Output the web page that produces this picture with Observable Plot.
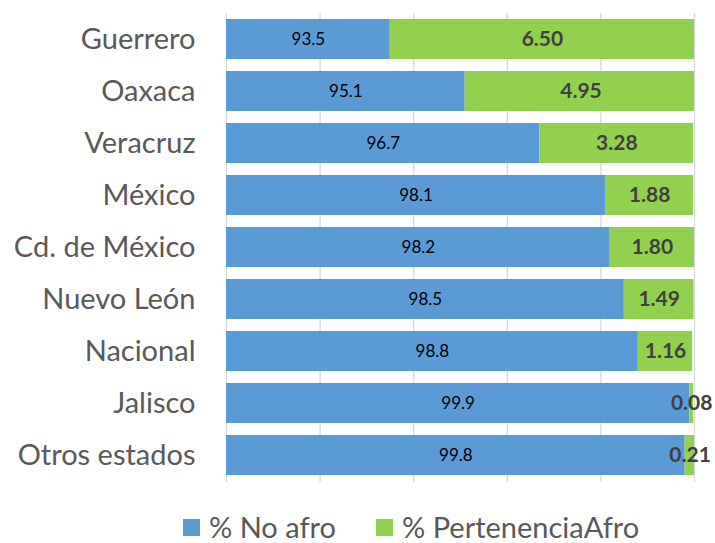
<!DOCTYPE html>
<html>
<head>
<meta charset="utf-8">
<script src="https://cdn.jsdelivr.net/npm/d3@7"></script>
<script src="https://cdn.jsdelivr.net/npm/@observablehq/plot@0.6"></script>
<style>
  html, body { margin: 0; padding: 0; background: #fff; }
  #chart { width: 715px; }
  .legend { display: flex; justify-content: flex-start; align-items: center; font-family: Lato, sans-serif; font-size: 29px; line-height: 30px; height: 30px; color: #595959; margin-left: 183px; margin-top: 17px; }
  .legend .item { display: flex; align-items: center; margin-right: 40px; }
  .legend .sw { width: 17px; height: 17px; margin-right: 9px; }
</style>
</head>
<body>
<div id="chart"></div>
<script>
const estados = ["Guerrero", "Oaxaca", "Veracruz", "México", "Cd. de México", "Nuevo León", "Nacional", "Jalisco", "Otros estados"];
const noAfro = [93.5, 95.1, 96.7, 98.1, 98.2, 98.5, 98.8, 99.9, 99.8];
const afro = [6.50, 4.95, 3.28, 1.88, 1.80, 1.49, 1.16, 0.08, 0.21];
const xTicks = [90, 92, 94, 96, 98, 100];
const seriesNames = ["% No afro", "% PertenenciaAfro"];
const colors = ["#5B9BD5", "#92D050"];

const xMin = xTicks[0], xMax = xTicks[xTicks.length - 1];
const rows = estados.map((e, i) => ({estado: e, noAfro: noAfro[i], afro: afro[i]}));

const font = "Lato, sans-serif";
const chart = Plot.plot({
  width: 715,
  height: 495,
  marginLeft: 226,
  marginRight: 21,
  marginTop: 13,
  marginBottom: 13,
  style: {fontFamily: font, background: "#fff"},
  x: {domain: [xMin, xMax], ticks: xTicks, axis: null},
  y: {domain: estados, paddingInner: 0.23, paddingOuter: 0.115, label: null},
  marks: [
    Plot.ruleX(xTicks, {stroke: "#d9d9d9", strokeWidth: 1.3}),
    Plot.barX(rows, {y: "estado", x1: () => xMin, x2: "noAfro", fill: colors[0], clip: true}),
    Plot.barX(rows, {y: "estado", x1: "noAfro", x2: d => d.noAfro + d.afro, fill: colors[1], clip: true}),
    Plot.text(rows, {y: "estado", x: d => (xMin + d.noAfro) / 2, text: d => d3.format(".1f")(d.noAfro), fill: "#000", fontSize: 17}),
    Plot.text(rows, {y: "estado", x: d => Math.min(d.noAfro + d.afro / 2, xMax), text: d => d3.format(".2f")(d.afro), fill: "#404040", fontSize: 21, fontWeight: "bold"}),
    Plot.axisY({tickSize: 0, tickPadding: 31, fontSize: 29, color: "#595959", label: null})
  ]
});
document.getElementById("chart").appendChild(chart);

const legend = document.createElement("div");
legend.className = "legend";
seriesNames.forEach((n, i) => {
  const item = document.createElement("div");
  item.className = "item";
  const sw = document.createElement("span");
  sw.className = "sw";
  sw.style.background = colors[i];
  const lab = document.createElement("span");
  lab.textContent = n;
  item.appendChild(sw);
  item.appendChild(lab);
  legend.appendChild(item);
});
document.getElementById("chart").appendChild(legend);
</script>
</body>
</html>
